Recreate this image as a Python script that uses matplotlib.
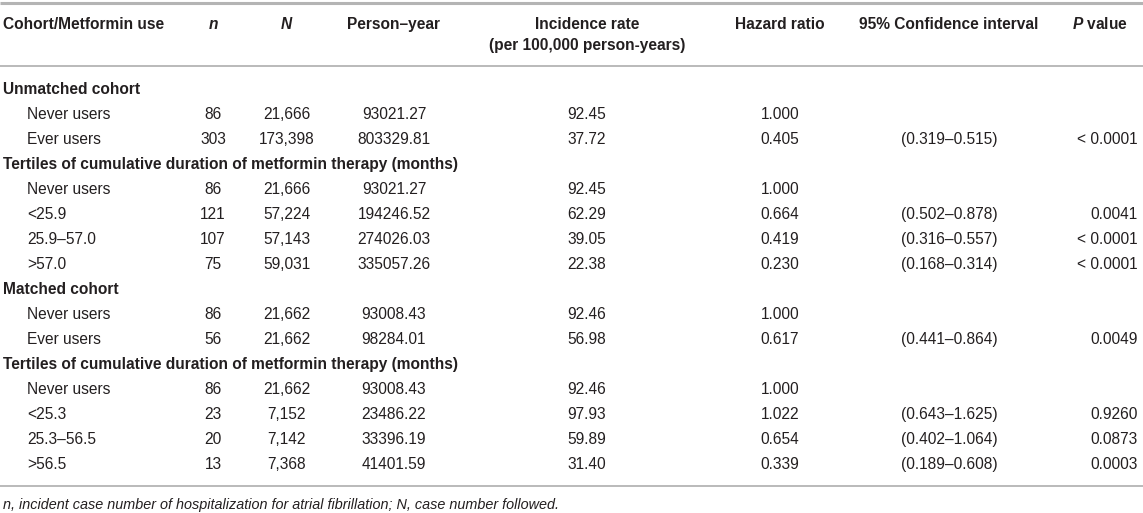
import matplotlib
matplotlib.use("Agg")
import matplotlib.pyplot as plt

# table contents
headers = ["Cohort/Metformin use", "$n$", "$N$", "Person–year",
           "Incidence rate\n(per 100,000 person-years)", "Hazard ratio",
           "95% Confidence interval", "$P$ value"]

labels = ["Unmatched cohort", "Never users", "Ever users",
          "Tertiles of cumulative duration of metformin therapy (months)",
          "Never users", "<25.9", "25.9–57.0", ">57.0",
          "Matched cohort", "Never users", "Ever users",
          "Tertiles of cumulative duration of metformin therapy (months)",
          "Never users", "<25.3", "25.3–56.5", ">56.5"]
is_section = [True, False, False, True, False, False, False, False,
              True, False, False, True, False, False, False, False]
n_cases = ["", "86", "303", "", "86", "121", "107", "75",
           "", "86", "56", "", "86", "23", "20", "13"]
n_followed = ["", "21,666", "173,398", "", "21,666", "57,224", "57,143", "59,031",
              "", "21,662", "21,662", "", "21,662", "7,152", "7,142", "7,368"]
person_year = ["", "93021.27", "803329.81", "", "93021.27", "194246.52", "274026.03", "335057.26",
               "", "93008.43", "98284.01", "", "93008.43", "23486.22", "33396.19", "41401.59"]
incidence = ["", "92.45", "37.72", "", "92.45", "62.29", "39.05", "22.38",
             "", "92.46", "56.98", "", "92.46", "97.93", "59.89", "31.40"]
hazard = ["", "1.000", "0.405", "", "1.000", "0.664", "0.419", "0.230",
          "", "1.000", "0.617", "", "1.000", "1.022", "0.654", "0.339"]
conf_int = ["", "", "(0.319–0.515)", "", "", "(0.502–0.878)", "(0.316–0.557)", "(0.168–0.314)",
            "", "", "(0.441–0.864)", "", "", "(0.643–1.625)", "(0.402–1.064)", "(0.189–0.608)"]
p_value = ["", "", "< 0.0001", "", "", "0.0041", "< 0.0001", "< 0.0001",
           "", "", "0.0049", "", "", "0.9260", "0.0873", "0.0003"]

footnote = "n, incident case number of hospitalization for atrial fibrillation; N, case number followed."

W, H = 1143, 513
fig = plt.figure(figsize=(W / 100, H / 100), dpi=100)
ax = fig.add_axes([0, 0, 1, 1])
ax.set_xlim(0, W)
ax.set_ylim(H, 0)
ax.axis("off")

plt.rcParams["font.family"] = ["Liberation Sans", "DejaVu Sans"]
plt.rcParams["mathtext.fontset"] = "custom"
plt.rcParams["mathtext.it"] = "Liberation Sans:italic:bold"
plt.rcParams["mathtext.rm"] = "Liberation Sans:bold"

fs = 11.2
txt = "#231f20"
rule = "#b4b4b4"
base = 5.6  # baseline offset from row centre

# rules
ax.plot([0, W], [3, 3], color=rule, lw=2.2, solid_capstyle="butt")
ax.plot([0, W], [66, 66], color=rule, lw=1.3, solid_capstyle="butt")
ax.plot([0, W], [486, 486], color=rule, lw=1.3, solid_capstyle="butt")

# header
col_x = [3, 213, 287, 394, 587, 780, 949, 1100]
for i, h in enumerate(headers):
    ha = "left" if i == 0 else "center"
    for j, line in enumerate(h.split("\n")):
        ax.text(col_x[i], 23 + 21 * j + base, line, ha=ha, va="baseline", fontsize=fs,
                fontweight="bold", color=txt)

# body
y0, dy = 88, 25
for k, lab in enumerate(labels):
    y = y0 + k * dy + base
    if is_section[k]:
        ax.text(3, y, lab, ha="left", va="baseline", fontsize=fs, fontweight="bold", color=txt)
        continue
    ax.text(27, y, lab, ha="left", va="baseline", fontsize=fs, color=txt)
    cols = [n_cases, n_followed, person_year, incidence, hazard, conf_int]
    for j, c in enumerate(cols):
        ax.text(col_x[j + 1], y, c[k], ha="center", va="baseline", fontsize=fs, color=txt)
    ax.text(1138, y, p_value[k], ha="right", va="baseline", fontsize=fs, color=txt)

ax.text(3, 504 + 5, footnote, ha="left", va="baseline", fontsize=10.4,
        style="italic", color=txt)

fig.savefig("out.png", dpi=100)
